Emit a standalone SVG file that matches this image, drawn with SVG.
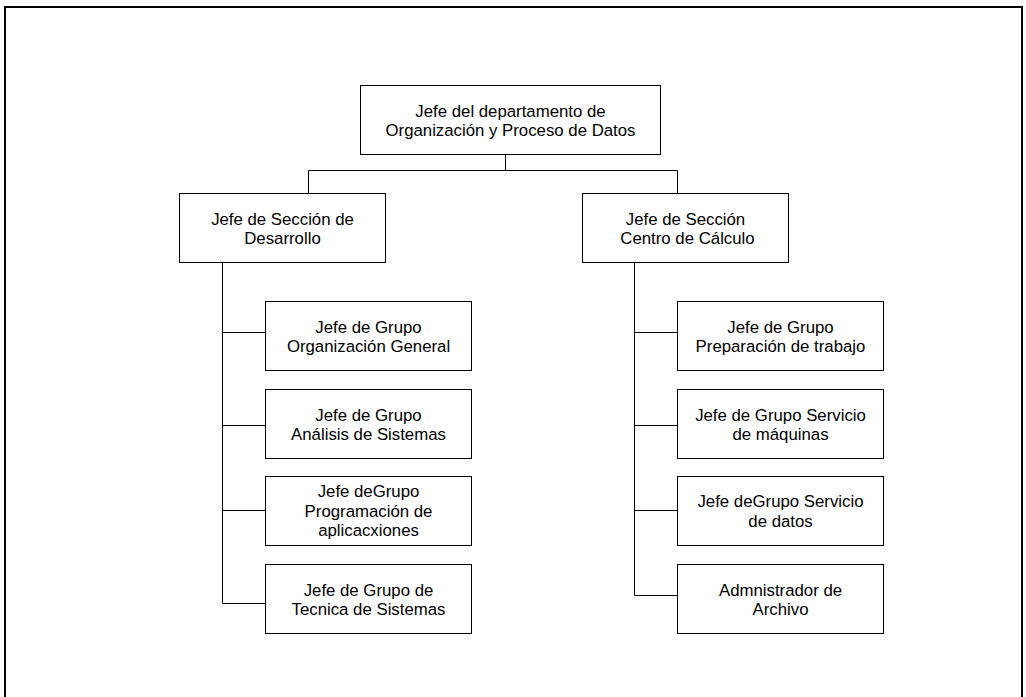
<svg xmlns="http://www.w3.org/2000/svg" width="1026" height="697" viewBox="0 0 1026 697">
  <style>
    .box { fill: #ffffff; stroke: #000000; stroke-width: 1; }
    .wire { fill: none; stroke: #000000; stroke-width: 1; }
    .frame { fill: none; stroke: #000000; stroke-width: 2; }
    text { font-family: "Liberation Sans", Arial, sans-serif; font-size: 16.8px; fill: #000000; text-anchor: middle; }
  </style>
  <rect width="1026" height="697" fill="#ffffff"/>
  <!-- page frame (open at the bottom) -->
  <path class="frame" d="M5 697 V7 H1022 V697"/>

  <!-- connectors -->
  <g id="connectors">
    <path class="wire" d="M505.5 154.5 V170.5"/>
    <path class="wire" d="M308.5 193.5 V170.5 H677.5 V193.5"/>
    <path class="wire" d="M222.5 262.5 V603.5"/>
    <path class="wire" d="M222.5 332.5 H265.5 M222.5 425.5 H265.5 M222.5 510.5 H265.5 M222.5 603.5 H265.5"/>
    <path class="wire" d="M634.5 262.5 V595.5"/>
    <path class="wire" d="M634.5 332.5 H677.5 M634.5 425.5 H677.5 M634.5 510.5 H677.5 M634.5 595.5 H677.5"/>
  </g>

  <g id="jefe-departamento">
    <rect class="box" x="360.5" y="85.5" width="300" height="69"/>
    <text x="510.5" y="116.5">Jefe del departamento de</text>
    <text x="510.5" y="136">Organización y Proceso de Datos</text>
  </g>

  <g id="seccion-desarrollo">
    <rect class="box" x="179.5" y="193.5" width="206" height="69"/>
    <text x="282.5" y="224.75">Jefe de Sección de</text>
    <text x="282.5" y="244.25">Desarrollo</text>
  </g>

  <g id="seccion-calculo">
    <rect class="box" x="582.5" y="193.5" width="206" height="69"/>
    <text x="685.5" y="224.75">Jefe de Sección</text>
    <text x="687.5" y="244.25">Centro de Cálculo</text>
  </g>

  <g id="grupo-organizacion">
    <rect class="box" x="265.5" y="301.5" width="206" height="69"/>
    <text x="368.5" y="332.75">Jefe de Grupo</text>
    <text x="368.5" y="352.25">Organización General</text>
  </g>

  <g id="grupo-analisis">
    <rect class="box" x="265.5" y="389.5" width="206" height="69"/>
    <text x="368.5" y="420.75">Jefe de Grupo</text>
    <text x="368.5" y="440.25">Análisis de Sistemas</text>
  </g>

  <g id="grupo-programacion">
    <rect class="box" x="265.5" y="476.5" width="206" height="69"/>
    <text x="368.5" y="497.25">Jefe deGrupo</text>
    <text x="368.5" y="516.75">Programación de</text>
    <text x="368.5" y="536.25">aplicacxiones</text>
  </g>

  <g id="grupo-tecnica">
    <rect class="box" x="265.5" y="564.5" width="206" height="69"/>
    <text x="368.5" y="595.75">Jefe de Grupo de</text>
    <text x="368.5" y="615.25">Tecnica de Sistemas</text>
  </g>

  <g id="grupo-preparacion">
    <rect class="box" x="677.5" y="301.5" width="206" height="69"/>
    <text x="780.5" y="332.75">Jefe de Grupo</text>
    <text x="780.5" y="352.25">Preparación de trabajo</text>
  </g>

  <g id="grupo-maquinas">
    <rect class="box" x="677.5" y="389.5" width="206" height="69"/>
    <text x="780.5" y="420.75">Jefe de Grupo Servicio</text>
    <text x="780.5" y="440.25">de máquinas</text>
  </g>

  <g id="grupo-datos">
    <rect class="box" x="677.5" y="476.5" width="206" height="69"/>
    <text x="780.5" y="507.25">Jefe deGrupo Servicio</text>
    <text x="780.5" y="526.75">de datos</text>
  </g>

  <g id="administrador-archivo">
    <rect class="box" x="677.5" y="564.5" width="206" height="69"/>
    <text x="780.5" y="595.75">Admnistrador de</text>
    <text x="780.5" y="615.25">Archivo</text>
  </g>
</svg>
